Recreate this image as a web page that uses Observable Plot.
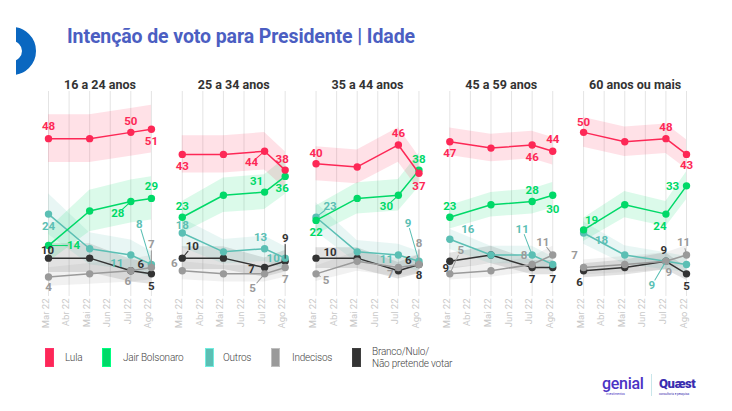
<!DOCTYPE html>
<html><head><meta charset="utf-8">
<script src="https://cdn.jsdelivr.net/npm/d3@7"></script>
<script src="https://cdn.jsdelivr.net/npm/@observablehq/plot@0.6"></script>
<style>
body{margin:0;background:#fff;font-family:Roboto,"Noto Sans",sans-serif;}
#wrap{position:relative;width:732px;height:411px;overflow:hidden;background:#fff;}
#chart{position:absolute;left:0;top:0;}
#title{position:absolute;left:67px;top:25px;font-size:19.5px;font-weight:700;color:#4b5ec2;white-space:nowrap;letter-spacing:-0.1px;}
#ring{position:absolute;left:16px;top:21px;}
.sw{position:absolute;width:9px;height:19px;top:348px;box-sizing:border-box;}
.lt{position:absolute;font-size:10px;font-weight:300;color:#444;line-height:12px;white-space:nowrap;letter-spacing:-0.2px;}
#genial{position:absolute;left:602px;top:374px;font-size:16px;color:#4a33c4;font-weight:500;letter-spacing:-0.3px;}
#genialsub{position:absolute;left:606px;top:392px;font-size:3px;color:#4a33c4;}
#div{position:absolute;left:651px;top:374px;width:1px;height:22px;background:#c9e6ea;}
#quaest{position:absolute;left:659px;top:376px;font-size:13px;color:#3a2db0;font-weight:900;letter-spacing:-0.4px;}
#quaestsub{position:absolute;left:659px;top:392px;font-size:3px;color:#3a2db0;}
</style></head>
<body><div id="wrap">
<div id="chart"></div>
<svg id="ring" width="20" height="60"><circle cx="-4" cy="30" r="17" fill="none" stroke="#0a67c0" stroke-width="14"/></svg>
<div id="title">Intenção de voto para Presidente | Idade</div>
<div id="legend"></div>
<div id="genial">genial</div><div id="genialsub">investimentos</div>
<div id="div"></div>
<div id="quaest">Quæst</div><div id="quaestsub">consultoria e pesquisa</div>
</div>
<script>
const months = ["Mar 22","Abr 22","Mai 22","Jun 22","Jul 22","Ago 22"];
const waveMonth = [0, 2, 4, 5];
const ageGroups = ["16 a 24 anos","25 a 34 anos","35 a 44 anos","45 a 59 anos","60 anos ou mais"];
const seriesNames = ["Lula","Jair Bolsonaro","Outros","Indecisos","Branco/Nulo/\nNão pretende votar"];
const seriesColors = ["#fd2856","#00d968","#5bbfb4","#9a9a9a","#333333"];
const marginOfError = [7.6, 6.0, 5.5, 4.4, 4.7];

// values[ageGroup][wave]  (Mar, Mai, Jul, Ago)
const lula      = [[48,48,50,51],[43,43,44,38],[40,39,46,37],[47,45,46,44],[50,47,48,43]];
const bolsonaro = [[14,25,28,29],[23,30,31,36],[22,29,30,38],[23,27,28,30],[19,27,24,33]];
const outros    = [[24,13,11,8],[18,12,13,10],[23,12,11,9],[16,11,11,8],[18,11,9,8]];
const indecisos = [[4,5,6,7],[6,5,5,7],[5,9,7,8],[5,6,8,11],[7,8,9,11]];
const branco    = [[10,10,6,5],[10,10,7,9],[10,10,6,8],[9,11,7,7],[6,7,9,5]];
const values = [lula, bolsonaro, outros, indecisos, branco];

// label placement: [ageGroup, series, wave, dx, dy, leader]
const labelPlacement = [
 [0,0,0,0,-12],[0,0,2,0,-11],[0,0,3,0,12],
 [0,1,3,0,-12],[0,1,2,-13,12,1],[0,1,0,25,0,1],
 [0,2,0,0,12],[0,2,2,-14,8],[0,2,3,-12,-40,1],
 [0,3,0,0,10],[0,3,2,-3,11],[0,3,3,0,-23,1],
 [0,4,0,-1,-8],[0,4,2,10,-6],[0,4,3,0,12],

 [1,0,0,0,12],[1,0,2,-13,11,1],[1,0,3,-3,-11],
 [1,1,0,0,-11],[1,1,2,-8,-11],[1,1,3,-3,12],
 [1,2,0,0,-8],[1,2,2,-4,-11],[1,2,3,-12,0],
 [1,4,0,10,-12,1],[1,4,2,-13,2],[1,4,3,0,-23,1],
 [1,3,0,-8,-7],[1,3,2,-12,14,1],[1,3,3,0,12],

 [2,0,0,0,-11],[2,0,2,0,-12],[2,0,3,0,13],
 [2,1,0,0,12],[2,1,2,-12,11,1],[2,1,3,0,-11],
 [2,2,0,14,-11,1],[2,2,2,-12,4],[2,2,3,-11,-38,1],
 [2,4,0,14,-6],[2,4,2,10,-10],[2,4,3,0,11],
 [2,3,0,10,6,1],[2,3,2,-8,7,1],[2,3,3,0,-21,1],

 [3,0,0,0,12],[3,0,2,0,12],[3,0,3,0,-12],
 [3,1,0,0,-11],[3,1,2,0,-11],[3,1,3,0,14],
 [3,2,0,18,-10],[3,2,2,-10,-26,1],
 [3,4,0,-4,7],[3,4,2,0,12],[3,4,3,0,12],
 [3,3,0,11,-24,1],[3,3,2,-8,-9],[3,3,3,-10,-13,1],

 [4,0,0,0,-10],[4,0,2,0,-11],[4,0,3,0,11],
 [4,1,0,8,-10],[4,1,2,-6,12],[4,1,3,-14,0],
 [4,2,0,18,7],[4,2,2,-14,24,1],
 [4,3,0,-9,-12],[4,3,2,3,11],[4,3,3,-3,-13,1],
 [4,4,0,-4,12],[4,4,2,-2,-11],[4,4,3,0,12]
];

const panelStep = 6.5;
const drawOrder = [4, 2, 3, 1, 0];
const xOf = (a, w) => a * panelStep + waveMonth[w];

const rows = [];
for (const s of drawOrder) for (let a = 0; a < ageGroups.length; a++) for (let w = 0; w < waveMonth.length; w++) {
  const v = values[s][a][w], p = v / 100;
  const half = marginOfError[a] * Math.sqrt(p * (1 - p)) / 0.5;
  rows.push({s, a, w, key: s + "-" + a, x: xOf(a, w), v, lo: v - half, hi: v + half});
}
const tickVals = [];
for (let a = 0; a < ageGroups.length; a++) for (let m = 0; m < months.length; m++) tickVals.push({x: a * panelStep + m, m});

function buildMarks(withLeaders) {
  const marks = [
    Plot.ruleX(tickVals, {x: "x", stroke: "#e4e4e4", strokeWidth: 1}),
    Plot.text(tickVals, {x: "x", text: d => months[d.m], frameAnchor: "bottom", rotate: -90, textAnchor: "end", dy: 2, fill: "#c9c9c9", fontSize: 9.5}),
    Plot.text(ageGroups, {x: (d, i) => i * panelStep + 2.5, text: d => d, frameAnchor: "top", dy: -11, fontWeight: 700, fontSize: 12.5, fill: "#333"}),
    Plot.areaY(rows, {x: "x", y1: "lo", y2: "hi", z: "key", fill: "s", fillOpacity: 0.14})
  ];
  for (const s of drawOrder) {
    const sub = rows.filter(r => r.s === s);
    marks.push(Plot.line(sub, {x: "x", y: "v", z: "key", stroke: "s", strokeWidth: 1.5}));
    marks.push(Plot.dot(sub, {x: "x", y: "v", fill: "s", r: 3.7}));
  }
  for (const [a, s, w, dx, dy, lead] of labelPlacement) {
    const d = {x: xOf(a, w), v: values[s][a][w]};
    if (lead && withLeaders) {
      const dist = Math.hypot(dx, dy);
      marks.push(Plot.vector([d], {x: "x", y: "v", anchor: "start", stroke: seriesColors[s], strokeWidth: 1,
        length: () => dist - 7, rotate: () => Math.atan2(dx, -dy) * 180 / Math.PI,
        shape: {draw(context, l) { context.moveTo(0, -3); context.lineTo(0, -l); }}}));
    }
    marks.push(Plot.text([d], {x: "x", y: "v", text: r => String(r.v), dx, dy, fill: seriesColors[s], fontWeight: 700, fontSize: 11.5}));
  }
  return marks;
}

function make(withLeaders) {
  return Plot.plot({
    width: 732, height: 340,
    marginTop: 91, marginBottom: 44, marginLeft: 48, marginRight: 46,
    style: {fontFamily: "Roboto, 'Noto Sans', sans-serif", background: "transparent"},
    x: {domain: [0, 4 * panelStep + 5], axis: null},
    y: {domain: [-2.2, 63], axis: null},
    color: {type: "ordinal", domain: [0, 1, 2, 3, 4], range: seriesColors},
    marks: buildMarks(withLeaders)
  });
}
let chart;
try { chart = make(true); } catch (e) { console.error(e); chart = make(false); }
document.getElementById("chart").appendChild(chart);

// legend
const legendX = [[45, 65], [102, 123], [205, 223], [271, 292], [352, 372]];
const legend = document.getElementById("legend");
seriesNames.forEach((name, i) => {
  const sw = document.createElement("div");
  sw.className = "sw";
  sw.style.left = legendX[i][0] + "px";
  sw.style.background = seriesColors[i];
  sw.style.border = "1px solid " + d3.color(seriesColors[i]).brighter(0.6);
  legend.appendChild(sw);
  const t = document.createElement("div");
  t.className = "lt";
  t.style.left = legendX[i][1] + "px";
  const lines = name.split("\n");
  t.style.top = (lines.length > 1 ? 346 : 352) + "px";
  t.innerHTML = lines.join("<br>");
  legend.appendChild(t);
});
</script>
</body></html>
